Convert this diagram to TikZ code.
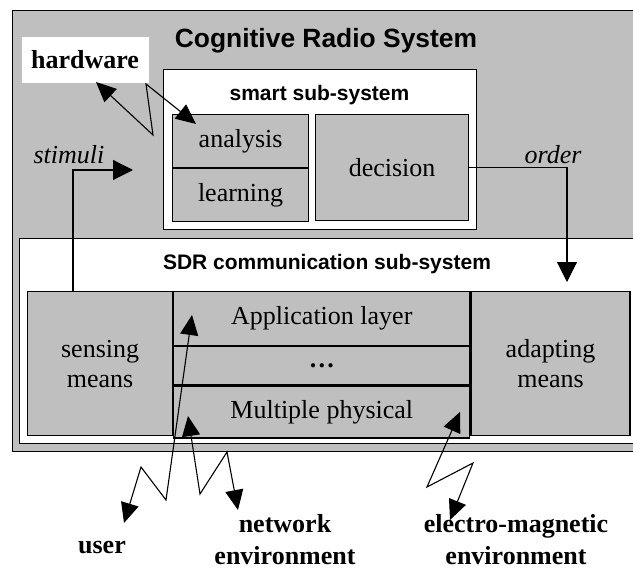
\documentclass[tikz,border=0pt]{standalone}
\usepackage{fontspec}
\setmainfont{Liberation Serif}
\setsansfont{Liberation Sans}
\usetikzlibrary{arrows.meta,positioning}
\definecolor{panelgray}{gray}{0.75}

\begin{document}
\begin{tikzpicture}[x=0.5pt, y=-0.5pt, line width=0.6pt,
        every node/.style={align=center, font=\fontsize{13}{15}\selectfont},
        panel/.style={draw, fill=panelgray, anchor=north west, inner sep=0pt},
        frame/.style={draw, fill=white, anchor=north west, inner sep=0pt},
        heading/.style={anchor=base, inner sep=0pt, font=\sffamily\bfseries\fontsize{10.5}{12}\selectfont},
        tag/.style={anchor=base west, inner sep=0pt, font=\itshape\fontsize{13}{15}\selectfont},
        outside/.style={anchor=north, inner sep=0pt, font=\bfseries\fontsize{13}{16}\selectfont},
        link/.style={line width=0.55pt, -{Triangle[length=10pt,width=10pt]}},
        spark/.style={line width=0.55pt, {Triangle[length=10pt,width=9pt]}-{Triangle[length=10pt,width=9pt]}}
    ]

    \clip (0,0) rectangle (633,573);

    % Nodes
    \node[panel, minimum width=316.5pt, minimum height=220.5pt] (crs) at (12,10) {};
    \node[heading, font=\sffamily\bfseries\fontsize{13.2}{15}\selectfont] (crstitle) at (326,47) {Cognitive Radio System};
    \node[fill=white, anchor=north west, inner sep=0pt, minimum width=63.5pt, minimum height=23pt,
        font=\bfseries\fontsize{13}{15}\selectfont] (hw) at (21,36) {hardware};

    \node[frame, minimum width=156.5pt, minimum height=80pt] (smart) at (163,69) {};
    \node[heading] (smarttitle) at (319.5,100) {smart sub-system};
    \node[panel, minimum width=68pt, minimum height=26.5pt] (analysis) at (172,114) {analysis};
    \node[panel, minimum width=68pt, minimum height=26.5pt, below=0pt of analysis] (learning) {learning};
    \node[panel, minimum width=76.5pt, minimum height=53pt] (decision) at (315,114) {decision};

    \node[frame, minimum width=313pt, minimum height=102.5pt] (sdr) at (19,238) {};
    \node[heading] (sdrtitle) at (327,269) {SDR communication sub-system};
    \node[panel, minimum width=72.5pt, minimum height=72pt] (sensing) at (27,291) {sensing\\means};
    \node[panel, minimum width=148pt, minimum height=27pt] (applayer) at (sensing.north east) {Application layer};
    \node[panel, minimum width=148pt, minimum height=19pt, below=0pt of applayer] (dots) {\textbf{\dots}};
    \node[panel, minimum width=148pt, minimum height=26pt, below=0pt of dots] (multiphy) {Multiple physical};
    \node[panel, minimum width=79.5pt, minimum height=72pt] (adapting) at (applayer.north east) {adapting\\means};

    \node[tag] (stimuli) at (33,163) {stimuli};
    \node[tag] (order) at (524,163) {order};
    \node[outside, anchor=base] (user) at (102,553) {user};
    \node[outside] (netenv) at (285,514) {network\\environment};
    \node[outside] (emenv) at (516,514) {electro-magnetic\\environment};

    % free ends
    \coordinate (stimtip) at (133,170);
    \coordinate (ordertip) at (567,282);
    \coordinate (hwtip) at (96,82);
    \coordinate (hwin) at (196,124);
    \coordinate (userin) at (192,315);
    \coordinate (userout) at (124,523);
    \coordinate (netin) at (188,416);
    \coordinate (netout) at (238,510);
    \coordinate (emin) at (460,412);
    \coordinate (emout) at (450,520);

    % Edges
    \draw[link] ([xshift=23pt]sensing.north west) |- (stimtip);
    \draw[link] (decision.east) -| (ordertip);
    \draw[spark] (hwtip) -- (153,135) -- (146,84) -- (hwin);
    \draw[spark] (userin) -- (166,500) -- (141,467) -- (userout);
    \draw[spark] (netin) -- (200,494) -- (227,452) -- (netout);
    \draw[spark] (emin) -- (427,487) -- (473,463) -- (emout);

\end{tikzpicture}
\end{document}
